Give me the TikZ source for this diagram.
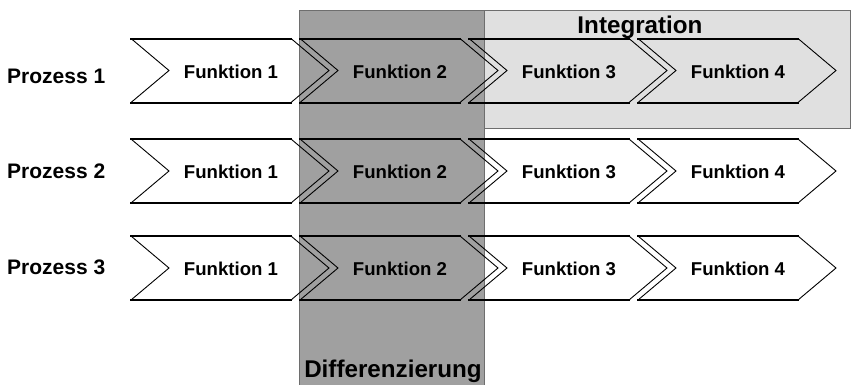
\documentclass[tikz,border=0pt]{standalone}
\usepackage{fontspec}
\setmainfont{Liberation Sans}
\definecolor{darkbox}{RGB}{160,160,160}
\definecolor{lightbox}{RGB}{224,224,224}
\definecolor{boxline}{RGB}{110,110,110}
\tikzset{
  edgethick/.style={line width=2pt, line cap=rect},
  edgethin/.style={line width=0.9pt},
  functext/.style={font=\bfseries\fontsize{18.6}{20}\selectfont, anchor=base, inner sep=0pt},
  proctext/.style={font=\bfseries\fontsize{21}{23}\selectfont, anchor=base west, inner sep=0pt},
  titletext/.style={font=\bfseries\fontsize{24.2}{26}\selectfont, anchor=base, inner sep=0pt},
  areabox/.style={draw=boxline, line width=0.8pt}
}
\begin{document}
\begin{tikzpicture}[x=1pt,y=-1pt]
\useasboundingbox (0,0) rectangle (851,384);
% areas
\path[areabox, fill=darkbox] (299,10) rectangle (484,390);
\path[areabox, fill=lightbox] (484,10) rectangle (850,128);
% chevrons
\foreach \r/\T in {1/38.5, 2/139, 3/236}{
  \foreach \c/\L in {1/131, 2/300, 3/469, 4/638}{
    \pgfmathsetmacro{\B}{\T+64}
    \pgfmathsetmacro{\M}{\T+32}
    \draw[edgethick] (\L,\T) -- (\L+160,\T);
    \draw[edgethick] (\L,\B) -- (\L+160,\B);
    \draw[edgethin] (\L+160,\T) -- (\L+198,\M) -- (\L+160,\B);
    \draw[edgethin] (\L,\T) -- (\L+38,\M) -- (\L,\B);
    \node[functext] (f\r\c) at (\L+100,\T+39.5) {Funktion \c};
  }
}
\node[proctext] (p1) at (7,83) {Prozess 1};
\node[proctext] (p2) at (7,178) {Prozess 2};
\node[proctext] (p3) at (7,274) {Prozess 3};
\node[titletext] (integ) at (640,33) {Integration};
\node[titletext] (diff) at (393,377) {Differenzierung};
\end{tikzpicture}
\end{document}
